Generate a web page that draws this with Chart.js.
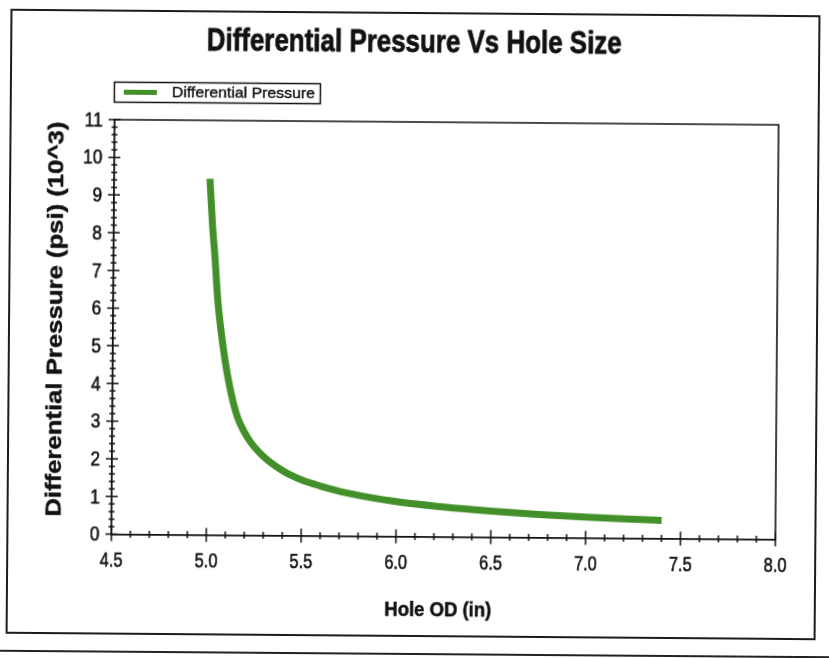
<!DOCTYPE html>
<html>
<head>
<meta charset="utf-8">
<title>Differential Pressure Vs Hole Size</title>
<script src="https://cdn.jsdelivr.net/npm/chart.js@4.4.0/dist/chart.umd.min.js"></script>
<style>
  html, body { margin: 0; padding: 0; background: #fff; width: 829px; height: 658px; overflow: hidden; }
  #sheet { position: absolute; left: 0; top: 0; width: 829px; height: 658px; transform: rotate(0.45deg); transform-origin: 50% 50%; }
  #frame { position: absolute; left: 8px; top: 12px; width: 810px; height: 625px; border: 2px solid #1c1c1c; box-sizing: border-box; }
  #edge { position: absolute; left: -10px; top: 653px; width: 850px; height: 2px; background: #222; }
  canvas { position: absolute; left: 0; top: 0; }
</style>
</head>
<body>
<div id="sheet">
  <div id="frame"></div>
  <div id="edge"></div>
  <canvas id="chart" width="829" height="658"></canvas>
</div>
<script>
// Hole OD (in)
const holeOD = [5.005, 5.02, 5.035, 5.05, 5.07, 5.09, 5.115, 5.155, 5.215, 5.29, 5.40,
                5.50, 5.60, 5.75, 6.00, 6.25, 6.50, 6.75, 7.00, 7.20, 7.40];
// Differential pressure (psi x 10^3)
const diffPressure = [9.45, 8.25, 7.35, 6.3, 5.4, 4.7, 4.0, 3.2, 2.58, 2.13, 1.72,
                      1.48, 1.32, 1.13, 0.92, 0.79, 0.69, 0.61, 0.55, 0.51, 0.48];

const xTickValues = [4.5, 5.0, 5.5, 6.0, 6.5, 7.0, 7.5, 8.0];
const xTickLabels = ['4.5', '5.0', '5.5', '6.0', '6.5', '7.0', '7.5', '8.0'];
const yTickValues = [0, 1, 2, 3, 4, 5, 6, 7, 8, 9, 10, 11];
const yTickLabels = ['0', '1', '2', '3', '4', '5', '6', '7', '8', '9', '10', '11'];

const chartTitle = 'Differential Pressure Vs Hole Size';
const seriesName = 'Differential Pressure';
const xTitle = 'Hole OD (in)';
const yTitle = 'Differential Pressure (psi) (10^3)';

const FONT = "'Liberation Sans', Arial, sans-serif";
const INK = '#111111';
const GREEN = '#43902a';

// Draws text horizontally squeezed (to a target width or by a fixed factor),
// with an optional outline to give the glyphs a heavier stroke
function squeezedText(ctx, text, x, y, font, opts) {
  ctx.save();
  ctx.font = font;
  const w = ctx.measureText(text).width;
  const sx = opts.width ? opts.width / w : (opts.factor || 1);
  ctx.translate(x, y);
  if (opts.angle) ctx.rotate(opts.angle);
  ctx.scale(sx, 1);
  ctx.textAlign = opts.align || 'center';
  ctx.textBaseline = 'middle';
  ctx.fillStyle = INK;
  ctx.fillText(text, 0, 0);
  if (opts.heavy) {
    ctx.strokeStyle = INK;
    ctx.lineWidth = opts.heavy;
    ctx.lineJoin = 'round';
    ctx.strokeText(text, 0, 0);
  }
  ctx.restore();
}

// Crossing tick marks, plot box, labels, titles and legend
const decor = {
  id: 'decor',
  afterDraw(chart) {
    const { ctx, chartArea: { left, right, top, bottom }, scales: { x, y } } = chart;
    ctx.save();
    ctx.strokeStyle = INK;
    ctx.lineWidth = 1.6;

    // top and right edges of the plot box
    ctx.beginPath();
    ctx.moveTo(left, top);
    ctx.lineTo(right, top);
    ctx.lineTo(right, bottom);
    ctx.stroke();

    ctx.lineWidth = 1.5;
    ctx.beginPath();
    // y ticks: majors at every value, four minors in between
    yTickValues.forEach((v, i) => {
      const py = y.getPixelForValue(v);
      ctx.moveTo(left - 6, py); ctx.lineTo(left + 6, py);
      if (i < yTickValues.length - 1) {
        const step = (yTickValues[i + 1] - v) / 5;
        for (let k = 1; k < 5; k++) {
          const my = y.getPixelForValue(v + step * k);
          ctx.moveTo(left - 3, my); ctx.lineTo(left + 3, my);
        }
      }
    });
    // x ticks
    xTickValues.forEach((v, i) => {
      const px = x.getPixelForValue(v);
      ctx.moveTo(px, bottom - 7); ctx.lineTo(px, bottom + 7);
      if (i < xTickValues.length - 1) {
        const step = (xTickValues[i + 1] - v) / 5;
        for (let k = 1; k < 5; k++) {
          const mx = x.getPixelForValue(v + step * k);
          ctx.moveTo(mx, bottom - 3.5); ctx.lineTo(mx, bottom + 3.5);
        }
      }
    });
    ctx.stroke();
    ctx.restore();

    // tick labels
    yTickValues.forEach((v, i) => {
      squeezedText(ctx, yTickLabels[i], left - 12, y.getPixelForValue(v) + 1, '21px ' + FONT,
                   { factor: 0.82, align: 'right', heavy: 0.6 });
    });
    xTickValues.forEach((v, i) => {
      squeezedText(ctx, xTickLabels[i], x.getPixelForValue(v), bottom + 27, '21px ' + FONT,
                   { factor: 0.78, heavy: 0.6 });
    });

    // axis titles
    squeezedText(ctx, xTitle, (left + right) / 2 - 5, 610, 'bold 20px ' + FONT,
                 { width: 107, heavy: 0.5 });
    squeezedText(ctx, yTitle, 56, 322, 'bold 22px ' + FONT,
                 { width: 395, angle: -Math.PI / 2, heavy: 0.4 });

    // chart title
    squeezedText(ctx, chartTitle, 412, 43, 'bold 32px ' + FONT, { width: 415, heavy: 0.8 });

    // legend
    const bx = 112.5, by = 84.5, bw = 206, bh = 20;
    ctx.save();
    ctx.fillStyle = '#fff';
    ctx.fillRect(bx, by, bw, bh);
    ctx.strokeStyle = INK;
    ctx.lineWidth = 1.5;
    ctx.strokeRect(bx, by, bw, bh);
    ctx.strokeStyle = chart.data.datasets[0].borderColor;
    ctx.lineWidth = 5;
    ctx.beginPath();
    ctx.moveTo(122, by + bh / 2); ctx.lineTo(155, by + bh / 2);
    ctx.stroke();
    ctx.restore();
    squeezedText(ctx, chart.data.datasets[0].label, 170, by + bh / 2 + 0.5, '15px ' + FONT,
                 { width: 143, align: 'left', heavy: 0.4 });
  }
};

new Chart(document.getElementById('chart'), {
  type: 'line',
  data: {
    datasets: [{
      label: seriesName,
      data: holeOD.map((v, i) => ({ x: v, y: diffPressure[i] })),
      borderColor: GREEN,
      borderWidth: 7,
      pointRadius: 0,
      fill: false,
      cubicInterpolationMode: 'monotone'
    }]
  },
  options: {
    responsive: false,
    animation: false,
    layout: { padding: { left: 10, right: 52, top: 122, bottom: 10 } },
    plugins: { legend: { display: false }, title: { display: false }, tooltip: { enabled: false } },
    scales: {
      x: {
        type: 'linear',
        min: 4.5, max: 8.0,
        afterBuildTicks: s => { s.ticks = xTickValues.map(v => ({ value: v })); },
        afterFit: s => { s.height = 111.5; },
        grid: { display: false, drawTicks: false },
        border: { display: true, color: INK, width: 1.8 },
        ticks: { display: false },
        title: { display: false, text: xTitle }
      },
      y: {
        type: 'linear',
        min: 0, max: 11,
        afterBuildTicks: s => { s.ticks = yTickValues.map(v => ({ value: v })); },
        afterFit: s => { s.width = 103; },
        grid: { display: false, drawTicks: false },
        border: { display: true, color: INK, width: 1.8 },
        ticks: { display: false },
        title: { display: false, text: yTitle }
      }
    }
  },
  plugins: [decor]
});
</script>
</body>
</html>
